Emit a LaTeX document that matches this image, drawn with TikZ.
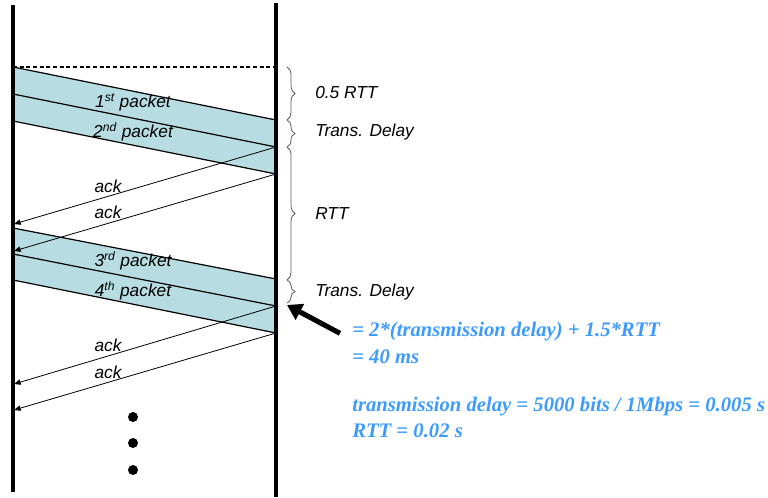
\documentclass[tikz,border=0pt]{standalone}
\usepackage{fontspec}
\setsansfont{Liberation Sans}
\newfontfamily\notefont{Liberation Serif}
\usepackage{xcolor}
\definecolor{bandfill}{HTML}{B7DDE2}
\definecolor{noteblue}{HTML}{3D9BFF}
\definecolor{bracegray}{HTML}{5A5A5A}
\usetikzlibrary{arrows.meta,decorations.pathreplacing}

\begin{document}
\begin{tikzpicture}[
  x=0.75pt, y=-0.75pt,
  font=\sffamily\itshape\fontsize{13}{15}\selectfont,
  band/.style={fill=bandfill},
  pkt/.style={black,line width=0.9pt},
  timeline/.style={black,line width=2.4pt},
  ack/.style={black,line width=0.6pt,-{Triangle[length=5pt,width=4pt]}},
  brc/.style={bracegray,line width=0.6pt,decorate,decoration={brace,amplitude=6pt}},
  lbl/.style={anchor=west,inner sep=0pt},
  plbl/.style={inner sep=0pt},
  note/.style={anchor=west,inner sep=0pt,noteblue,
    font=\notefont\bfseries\itshape\fontsize{15.5}{17}\selectfont},
  bigarr/.style={black,line width=3.8pt,-{Triangle[length=11pt,width=13pt]}},
  dot/.style={circle,fill=black,inner sep=0pt,minimum size=7.5pt}
]
\useasboundingbox (0,0) rectangle (768,497);
% time lines
\coordinate (ltop) at (13,5);
\coordinate (lbot) at (13,492);
\coordinate (rtop) at (276,3);
\coordinate (rbot) at (276,497);
% first two packets
\coordinate (L1) at (13,67);
\coordinate (L2) at (13,94);
\coordinate (L3) at (13,121);
\coordinate (R0) at (276,67);
\coordinate (R1) at (276,120);
\coordinate (R2) at (276,147);
\coordinate (R3) at (276,174);
% next two packets
\coordinate (L4) at (13,228);
\coordinate (L5) at (13,254);
\coordinate (L6) at (13,280);
\coordinate (R4) at (276,279);
\coordinate (R5) at (276,306);
\coordinate (R6) at (276,333);
% ack ends
\coordinate (A1) at (14,224);
\coordinate (A2) at (14,251);
\coordinate (A3) at (14,384);
\coordinate (A4) at (14,410);
\coordinate (tip) at (287,305);

\fill[band] (L1) -- (R1) -- (R3) -- (L3) -- cycle;
\fill[band] (L4) -- (R4) -- (R6) -- (L6) -- cycle;
\draw[pkt] (L1) -- (R1);
\draw[pkt] (L2) -- (R2);
\draw[pkt] (L3) -- (R3);
\draw[pkt] (L4) -- (R4);
\draw[pkt] (L5) -- (R5);
\draw[pkt] (L6) -- (R6);
\draw[black,line width=0.8pt,dash pattern=on 3pt off 2pt] (L1) -- (R0);

\draw[ack] (R2) -- (A1);
\draw[ack] (R3) -- (A2);
\draw[ack] (R5) -- (A3);
\draw[ack] (R6) -- (A4);

\draw[timeline] (ltop) -- (lbot);
\draw[timeline] (rtop) -- (rbot);

% labels on the packets
\node[plbl] (p1) at (133,102) {1\textsuperscript{st} packet};
\node[plbl] (p2) at (133,132) {2\textsuperscript{nd} packet};
\node[plbl] (p3) at (133,261) {3\textsuperscript{rd} packet};
\node[plbl] (p4) at (133,291) {4\textsuperscript{th} packet};
\node[plbl] (k1) at (108,186) {ack};
\node[plbl] (k2) at (108,212) {ack};
\node[plbl] (k3) at (108,345) {ack};
\node[plbl] (k4) at (108,372) {ack};

% braces
\draw[brc] (287,67) -- (287,120);
\draw[brc] (287,120) -- (287,147);
\draw[brc] (287,147) -- (287,280);
\draw[brc] (287,280) -- (287,303);
\node[lbl] (b1) at (315,93) {0.5 RTT};
\node[lbl] (b2) at (315,132) {Trans. Delay};
\node[lbl] (b3) at (315,214) {RTT};
\node[lbl] (b4) at (315,292) {Trans. Delay};

% result
\node[note] (eq) at (352,332) {= 2*(transmission delay) + 1.5*RTT};
\node[note] (eqres) at (352,357) {= 40 ms};
\node[note] (tdel) at (352,407) {transmission delay = 5000 bits / 1Mbps = 0.005 s};
\node[note] (rtt) at (352,431) {RTT = 0.02 s};
\draw[bigarr] ([xshift=-9pt,yshift=-1pt]eq.west) -- (tip);

% more to come
\node[dot] (d1) at (133,417) {};
\node[dot] (d2) at (133,443) {};
\node[dot] (d3) at (133,470) {};
\end{tikzpicture}
\end{document}
